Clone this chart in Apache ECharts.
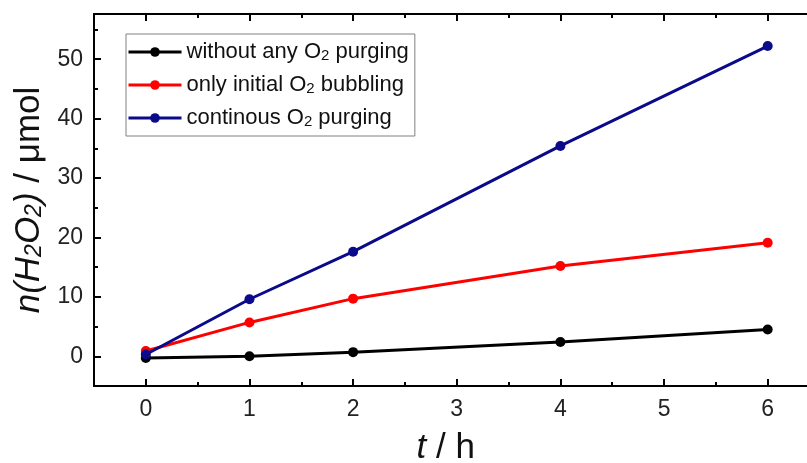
<!DOCTYPE html>
<html>
<head>
<meta charset="utf-8">
<script src="https://cdn.jsdelivr.net/npm/echarts@6/dist/echarts.min.js"></script>
<style>
  html, body { margin: 0; padding: 0; background: #ffffff; }
  #chart { width: 807px; height: 463px; }
</style>
</head>
<body>
<div id="chart"></div>
<script>
// Reaction time in hours
const times = [0, 1, 2, 4, 6];

// H2O2 produced (µmol) under the three oxygen conditions
const noPurging = [-0.3, 0.0, 0.7, 2.4, 4.5];
const initialBubbling = [0.9, 5.7, 9.7, 15.2, 19.1];
const continuousPurging = [0.3, 9.6, 17.6, 35.4, 52.2];

const seriesNames = [
  'without any O2 purging',
  'only initial O2 bubbling',
  'continous O2 purging'
];

// Tick positions
const xMajorTicks = [0, 1, 2, 3, 4, 5, 6];
const xMinorTicks = [0.5, 1.5, 2.5, 3.5, 4.5, 5.5];
const yMajorTicks = [0, 10, 20, 30, 40, 50];
const yMinorTicks = [-5, 5, 15, 25, 35, 45, 55];

const FONT = '"Liberation Sans", Arial, Helvetica, sans-serif';
const X_RANGE = { min: -0.5, max: 6.5 };
const Y_RANGE = { min: -5, max: 57.6 };

const chart = echarts.init(document.getElementById('chart'), null, { renderer: 'canvas' });

const axisLineStyle = { show: true, onZero: false, lineStyle: { color: '#000', width: 2 } };
const hiddenLine = { show: false, onZero: false };

function xAxisDef(position, ticks, tickLen, opts) {
  return Object.assign({
    type: 'value',
    position: position,
    min: X_RANGE.min,
    max: X_RANGE.max,
    axisLine: axisLineStyle,
    axisTick: { show: true, inside: true, length: tickLen, customValues: ticks,
                lineStyle: { color: '#000', width: 2 } },
    axisLabel: { show: false },
    splitLine: { show: false }
  }, opts || {});
}

function yAxisDef(ticks, tickLen, opts) {
  return Object.assign({
    type: 'value',
    position: 'left',
    min: Y_RANGE.min,
    max: Y_RANGE.max,
    axisLine: axisLineStyle,
    axisTick: { show: true, inside: true, length: tickLen, customValues: ticks,
                lineStyle: { color: '#000', width: 2 } },
    axisLabel: { show: false },
    splitLine: { show: false }
  }, opts || {});
}

const colors = ['#000000', '#ff0000', '#0a0a8a'];
const datasets = [noPurging, initialBubbling, continuousPurging];

const option = {
  animation: false,
  backgroundColor: '#ffffff',
  // the frame runs on past the right edge of the canvas (x up to 6.5)
  grid: { left: 94, top: 14, width: 725.5, height: 372, containLabel: false, outerBoundsMode: 'none' },
  legend: {
    orient: 'vertical',
    left: 126,
    top: 34,
    padding: [7, 6, 7, 1],
    borderColor: '#808080',
    borderWidth: 1,
    itemWidth: 53,
    itemHeight: 12,
    itemGap: 11,
    data: seriesNames,
    lineStyle: { width: 3 },
    formatter: name => name.replace('O2', 'O{sub|2}'),
    textStyle: {
      fontFamily: FONT,
      fontSize: 22,
      lineHeight: 22,
      color: '#111',
      rich: { sub: { fontFamily: FONT, fontSize: 15, lineHeight: 8, verticalAlign: 'bottom', color: '#111' } }
    }
  },
  xAxis: [
    xAxisDef('bottom', xMajorTicks, 7, {
      axisLabel: { show: true, customValues: xMajorTicks, margin: 12,
                   fontFamily: FONT, fontSize: 23, color: '#222' },
      name: '{it|t} / h',
      nameLocation: 'middle',
      nameGap: 45,
      nameTextStyle: { fontFamily: FONT, fontSize: 35, color: '#111', padding: [0, 22, 0, 0],
                       rich: { it: { fontFamily: FONT, fontSize: 35, fontStyle: 'italic', color: '#111' } } }
    }),
    xAxisDef('bottom', xMinorTicks, 4, { axisLine: hiddenLine }),
    xAxisDef('top', xMajorTicks, 7),
    xAxisDef('top', xMinorTicks, 4, { axisLine: hiddenLine })
  ],
  yAxis: [
    yAxisDef(yMajorTicks, 7, {
      axisLabel: { show: true, customValues: yMajorTicks, margin: 11,
                   fontFamily: FONT, fontSize: 23, color: '#222' },
      name: '{it|n(H}{sub|2}{it|O}{sub|2}{it|)} / μmol',
      nameLocation: 'middle',
      nameGap: 46,
      nameTextStyle: {
        fontFamily: FONT, fontSize: 35, color: '#111',
        rich: {
          it: { fontFamily: FONT, fontSize: 35, fontStyle: 'italic', color: '#111' },
          sub: { fontFamily: FONT, fontSize: 23, fontStyle: 'italic', lineHeight: 14, verticalAlign: 'bottom', color: '#111' }
        }
      }
    }),
    yAxisDef(yMinorTicks, 4, { axisLine: hiddenLine })
  ],
  series: seriesNames.map((name, i) => ({
    name: name,
    type: 'line',
    xAxisIndex: 0,
    yAxisIndex: 0,
    data: times.map((t, k) => [t, datasets[i][k]]),
    symbol: 'circle',
    symbolSize: 10,
    lineStyle: { color: colors[i], width: 3 },
    itemStyle: { color: colors[i] },
    z: 2 + i
  }))
};

chart.setOption(option);
</script>
</body>
</html>
